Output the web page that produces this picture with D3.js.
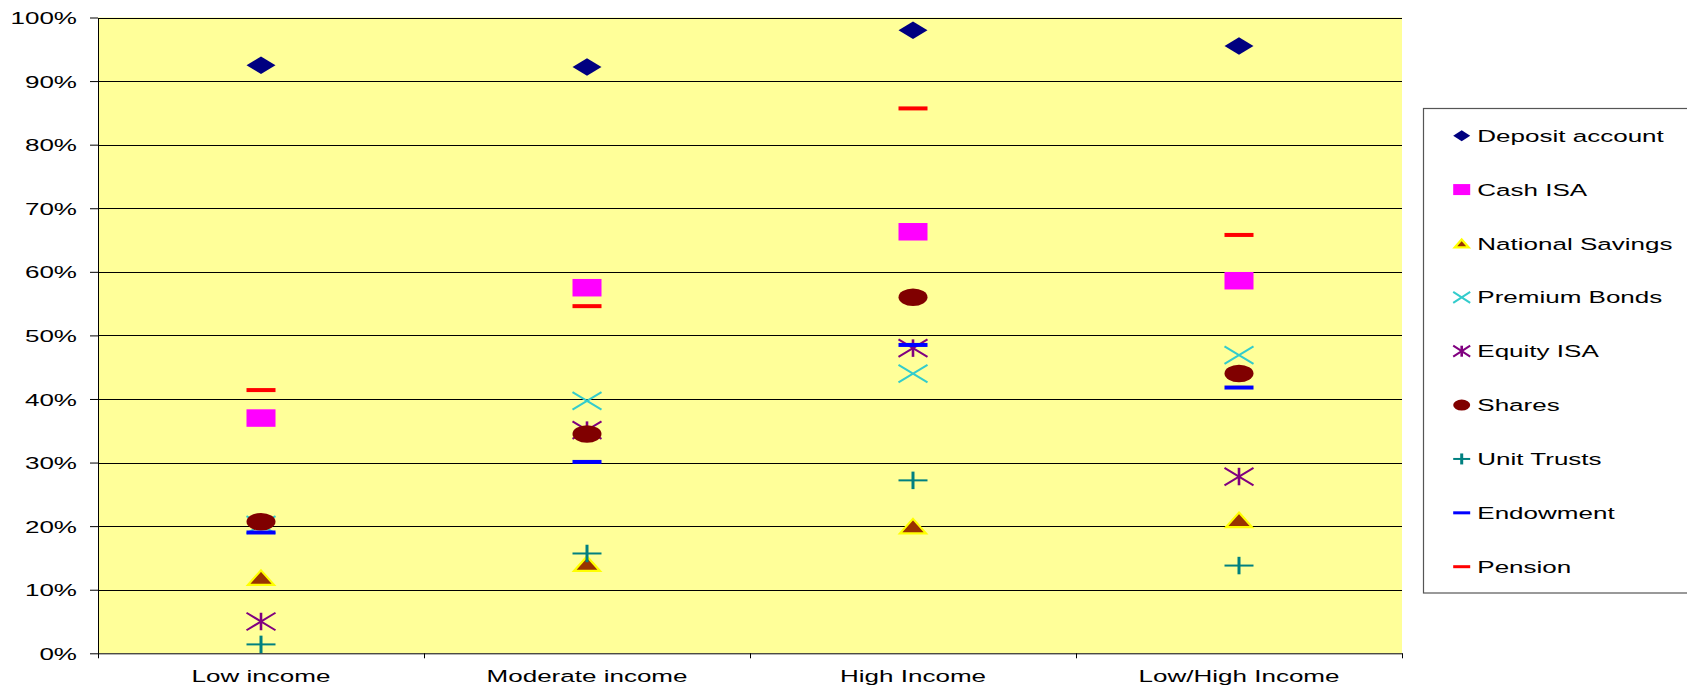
<!DOCTYPE html>
<html>
<head>
<meta charset="utf-8">
<script src="https://cdn.jsdelivr.net/npm/d3@7"></script>
<style>
  html, body { margin: 0; padding: 0; background: #fff; }
  svg { display: block; }
  text { font-family: "Liberation Sans", Arial, sans-serif; fill: #000; }
</style>
</head>
<body>
<svg id="chart" width="1687" height="687"></svg>
<script>
// Share of each income group holding each kind of saving product (%)
const categories = ["Low income", "Moderate income", "High Income", "Low/High Income"];
const seriesNames = ["Deposit account", "Cash ISA", "National Savings", "Premium Bonds",
                     "Equity ISA", "Shares", "Unit Trusts", "Endowment", "Pension"];

const depositAccount  = [92.5, 92.2, 98.0, 95.5];
const cashIsa         = [37.0, 57.5, 66.3, 58.6];
const nationalSavings = [11.9, 14.1, 20.0, 21.0];
const premiumBonds    = [20.2, 39.7, 44.0, 46.9];
const equityIsa       = [5.0, 35.1, 48.0, 27.8];
const shares          = [20.7, 34.5, 56.0, 44.0];
const unitTrusts      = [1.4, 15.7, 27.2, 13.8];
const endowment       = [19.0, 30.1, 48.5, 41.8];
const pension         = [41.4, 54.6, 85.7, 65.8];

const yTickValues = [0, 10, 20, 30, 40, 50, 60, 70, 80, 90, 100];
const yTickLabels = ["0%", "10%", "20%", "30%", "40%", "50%", "60%", "70%", "80%", "90%", "100%"];

const seriesValues = [depositAccount, cashIsa, nationalSavings, premiumBonds,
                      equityIsa, shares, unitTrusts, endowment, pension];

// ---- layout ----
const plot = { left: 98, right: 1402, top: 17.5, bottom: 653.3 };
const TEXT_SX = 1.53;     // wide lettering used throughout
const FONT = 17;

const svg = d3.select("#chart");

const x = d3.scaleBand().domain(categories).range([plot.left, plot.right]);
const y = d3.scaleLinear().domain([0, 100]).range([plot.bottom, plot.top]);

// plot background
svg.append("rect")
  .attr("x", plot.left).attr("y", plot.top)
  .attr("width", plot.right - plot.left).attr("height", plot.bottom - plot.top)
  .attr("fill", "#FFFF99");

// horizontal gridlines
svg.append("g")
  .selectAll("line")
  .data(yTickValues.filter(v => v > 0))
  .join("line")
  .attr("x1", plot.left).attr("x2", plot.right)
  .attr("y1", d => Math.round(y(d)) + 0.5).attr("y2", d => Math.round(y(d)) + 0.5)
  .attr("stroke", "#000").attr("stroke-width", 1);

// y axis
const yAxis = svg.append("g")
  .attr("transform", `translate(${plot.left},0)`)
  .call(d3.axisLeft(y).tickValues(yTickValues)
    .tickFormat((d, i) => yTickLabels[i]).tickSize(8).tickSizeOuter(0));
yAxis.select(".domain").attr("stroke", "#000");
yAxis.selectAll(".tick line").attr("stroke", "#000");
yAxis.selectAll(".tick text")
  .attr("x", null).attr("dy", "0.36em")
  .attr("transform", `translate(-21,0) scale(${TEXT_SX},1)`)
  .attr("font-size", FONT).attr("font-family", null).attr("fill", "#000");

// x axis: labels centred on each group, ticks on group boundaries
const xAxis = svg.append("g")
  .attr("transform", `translate(0,${plot.bottom})`)
  .call(d3.axisBottom(x).tickSize(0).tickSizeOuter(0));
xAxis.select(".domain").attr("stroke", "#000");
xAxis.selectAll(".tick text")
  .attr("y", null).attr("dy", null)
  .attr("transform", `translate(0,29) scale(${TEXT_SX},1)`)
  .attr("font-size", FONT).attr("font-family", null).attr("fill", "#000");

const boundaries = categories.map(c => x(c)).concat([x(categories[categories.length - 1]) + x.bandwidth()]);
svg.append("g").selectAll("line")
  .data(boundaries).join("line")
  .attr("x1", d => Math.round(d) + 0.5).attr("x2", d => Math.round(d) + 0.5)
  .attr("y1", plot.bottom).attr("y2", plot.bottom + 5)
  .attr("stroke", "#000");

// ---- marker drawing ----
function drawMarker(g, idx, w, h, dashH) {
  switch (idx) {
    case 0: // diamond
      g.append("path").attr("d", `M0,${-h/2}L${w/2},0L0,${h/2}L${-w/2},0Z`).attr("fill", "#000080");
      break;
    case 1: // square
      g.append("rect").attr("x", -w/2).attr("y", -h/2).attr("width", w).attr("height", h).attr("fill", "#FF00FF");
      break;
    case 2: { // triangle, yellow edge
      const iw = w - 3, ih = h - 3;
      g.append("path").attr("d", `M0,${-ih/2}L${iw/2},${ih/2}L${-iw/2},${ih/2}Z`)
        .attr("fill", "#993300").attr("stroke", "#FFFF00").attr("stroke-width", 2.2)
        .attr("stroke-linejoin", "miter");
      break;
    }
    case 3: // x
      g.append("path").attr("d", `M${-w/2},${-h/2}L${w/2},${h/2}M${-w/2},${h/2}L${w/2},${-h/2}`)
        .attr("stroke", "#33CCCC").attr("stroke-width", 2).attr("fill", "none");
      break;
    case 4: // star: x plus vertical bar
      g.append("path").attr("d", `M${-w/2},${-h/2}L${w/2},${h/2}M${-w/2},${h/2}L${w/2},${-h/2}`)
        .attr("stroke", "#800080").attr("stroke-width", 2).attr("fill", "none");
      g.append("path").attr("d", `M0,${-h/2}L0,${h/2}`)
        .attr("stroke", "#800080").attr("stroke-width", 2.6);
      break;
    case 5: // ellipse
      g.append("ellipse").attr("rx", w/2).attr("ry", h/2).attr("fill", "#800000");
      break;
    case 6: // plus
      g.append("path").attr("d", `M${-w/2},0L${w/2},0`).attr("stroke", "#008080").attr("stroke-width", 2);
      g.append("path").attr("d", `M0,${-h/2}L0,${h/2}`).attr("stroke", "#008080").attr("stroke-width", 3);
      break;
    case 7: // dash
      g.append("rect").attr("x", -w/2).attr("y", -dashH/2).attr("width", w).attr("height", dashH).attr("fill", "#0000FF");
      break;
    case 8:
      g.append("rect").attr("x", -w/2).attr("y", -dashH/2).attr("width", w).attr("height", dashH).attr("fill", "#FF0000");
      break;
  }
}

// data points
const pointsLayer = svg.append("g");
seriesValues.forEach((vals, si) => {
  const sg = pointsLayer.append("g").attr("class", "series");
  vals.forEach((v, ci) => {
    const cx = x(categories[ci]) + x.bandwidth() / 2;
    const g = sg.append("g").attr("transform", `translate(${cx},${y(v)})`);
    drawMarker(g, si, 29, 17.5, 4);
  });
});

// ---- legend ----
const legend = svg.append("g");
legend.append("rect")
  .attr("x", 1423.5).attr("y", 108.5).attr("width", 300).attr("height", 484.5)
  .attr("fill", "#fff").attr("stroke", "#555").attr("stroke-width", 1.2);

const legendY = d3.scalePoint().domain(seriesNames).range([135.7, 566.7]);
seriesNames.forEach((name, i) => {
  const ly = legendY(name);
  const g = legend.append("g").attr("transform", `translate(1461.7,${ly})`);
  drawMarker(g, i, 17, 11, 3);
  legend.append("text")
    .attr("transform", `translate(1477.3,${ly}) scale(${TEXT_SX},1)`)
    .attr("dy", "0.36em").attr("font-size", FONT)
    .text(name);
});
</script>
</body>
</html>
